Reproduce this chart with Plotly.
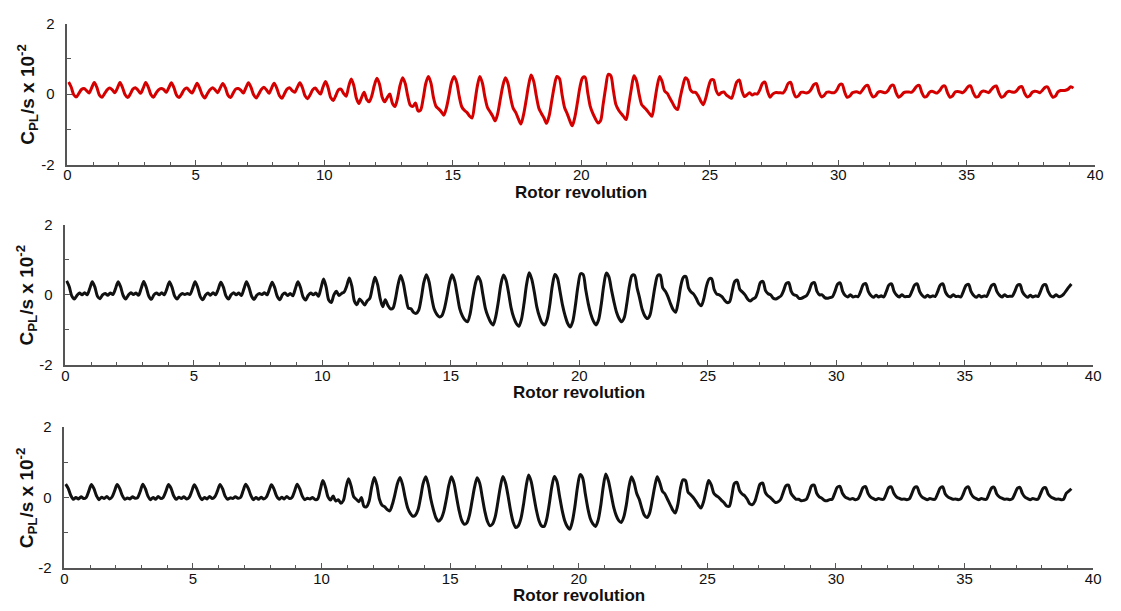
import numpy as np
import plotly.graph_objects as go

# C_PL/s x 10^-2 sampled every 0.1 rotor revolution (first sample at 0.05 rev)
cpl_top = [
    0.34, 0.20, -0.02, -0.08, 0.02, 0.13, 0.16, 0.10, 0.03, 0.18,
    0.33, 0.19, -0.03, -0.09, 0.01, 0.12, 0.17, 0.12, 0.04, 0.17,
    0.33, 0.18, -0.02, -0.10, 0.00, 0.14, 0.18, 0.11, 0.02, 0.16,
    0.33, 0.20, -0.01, -0.09, 0.02, 0.12, 0.16, 0.13, 0.05, 0.18,
    0.32, 0.18, -0.03, -0.10, 0.00, 0.13, 0.17, 0.10, 0.03, 0.16,
    0.31, 0.17, -0.02, -0.11, 0.01, 0.12, 0.18, 0.12, 0.04, 0.17,
    0.30, 0.18, -0.03, -0.10, 0.02, 0.14, 0.16, 0.11, 0.03, 0.18,
    0.32, 0.19, -0.02, -0.11, 0.00, 0.13, 0.19, 0.12, 0.02, 0.17,
    0.31, 0.17, -0.04, -0.12, 0.01, 0.14, 0.18, 0.10, 0.05, 0.19,
    0.32, 0.18, -0.05, -0.13, -0.02, 0.12, 0.17, 0.08, 0.00, 0.20,
    0.36, 0.18, -0.10, -0.18, -0.04, 0.12, 0.14, 0.02, -0.06, 0.22,
    0.43, 0.24, -0.12, -0.27, -0.10, 0.05, -0.15, -0.22, -0.05, 0.25,
    0.45, 0.28, -0.08, -0.22, -0.10, 0.00, -0.26, -0.35, -0.12, 0.25,
    0.46, 0.30, -0.06, -0.32, -0.35, -0.25, -0.48, -0.45, -0.12, 0.30,
    0.50, 0.32, -0.10, -0.35, -0.42, -0.50, -0.60, -0.40, -0.05, 0.33,
    0.50, 0.34, -0.06, -0.36, -0.46, -0.52, -0.62, -0.68, -0.28, 0.20,
    0.50, 0.32, -0.08, -0.38, -0.50, -0.62, -0.76, -0.55, -0.15, 0.24,
    0.46, 0.30, -0.10, -0.40, -0.52, -0.70, -0.85, -0.60, -0.20, 0.25,
    0.54, 0.36, -0.05, -0.40, -0.55, -0.68, -0.83, -0.62, -0.20, 0.22,
    0.50, 0.44, 0.00, -0.38, -0.55, -0.75, -0.90, -0.66, -0.25, 0.20,
    0.46, 0.48, 0.05, -0.35, -0.55, -0.70, -0.82, -0.76, -0.30, 0.18,
    0.56, 0.52, 0.10, -0.30, -0.45, -0.55, -0.64, -0.72, -0.30, 0.15,
    0.52, 0.38, 0.00, -0.30, -0.38, -0.46, -0.55, -0.63, -0.25, 0.20,
    0.50, 0.35, 0.08, 0.02, -0.12, -0.25, -0.38, -0.44, -0.10, 0.22,
    0.46, 0.40, 0.12, 0.05, 0.05, -0.05, -0.20, -0.30, -0.10, 0.20,
    0.40, 0.40, 0.10, -0.02, 0.04, 0.06, -0.03, -0.08, -0.12, 0.10,
    0.34, 0.40, 0.10, -0.07, -0.02, 0.04, -0.03, 0.01, 0.00, 0.12,
    0.30, 0.34, 0.08, -0.09, 0.00, 0.04, 0.04, 0.04, 0.03, 0.13,
    0.30, 0.33, 0.08, -0.08, -0.05, 0.05, 0.05, 0.03, 0.05, 0.14,
    0.27, 0.30, 0.06, -0.08, -0.04, 0.05, 0.06, 0.04, 0.04, 0.12,
    0.26, 0.28, 0.06, -0.09, -0.06, 0.04, 0.06, 0.06, 0.03, 0.12,
    0.22, 0.25, 0.05, -0.08, -0.05, 0.05, 0.07, 0.05, 0.04, 0.11,
    0.23, 0.25, 0.04, -0.09, -0.04, 0.04, 0.06, 0.06, 0.05, 0.12,
    0.22, 0.25, 0.05, -0.08, -0.06, 0.05, 0.08, 0.05, 0.03, 0.10,
    0.21, 0.23, 0.04, -0.09, -0.05, 0.06, 0.07, 0.06, 0.04, 0.11,
    0.21, 0.23, 0.05, -0.08, -0.07, 0.05, 0.09, 0.07, 0.04, 0.12,
    0.20, 0.23, 0.04, -0.09, -0.06, 0.04, 0.08, 0.06, 0.05, 0.10,
    0.19, 0.21, 0.03, -0.08, -0.05, 0.05, 0.08, 0.07, 0.04, 0.11,
    0.19, 0.20, 0.04, -0.09, -0.06, 0.06, 0.10, 0.10, 0.11, 0.14,
    0.21, 0.17,
]

cpl_mid = [
    0.40, 0.24, -0.03, -0.12, -0.02, 0.05, 0.00, 0.06, 0.00, 0.18,
    0.37, 0.22, -0.04, -0.11, 0.00, 0.04, -0.01, 0.05, 0.01, 0.17,
    0.37, 0.23, -0.02, -0.12, -0.01, 0.06, 0.01, 0.05, -0.01, 0.18,
    0.38, 0.21, -0.04, -0.13, 0.00, 0.05, 0.00, 0.06, 0.00, 0.17,
    0.37, 0.22, -0.03, -0.12, -0.02, 0.04, 0.01, 0.04, 0.01, 0.18,
    0.37, 0.21, -0.05, -0.14, -0.01, 0.05, -0.01, 0.06, 0.00, 0.16,
    0.36, 0.22, -0.03, -0.12, 0.00, 0.06, 0.00, 0.05, -0.02, 0.17,
    0.37, 0.21, -0.04, -0.13, -0.01, 0.04, 0.01, 0.06, 0.00, 0.18,
    0.36, 0.20, -0.05, -0.14, 0.00, 0.05, -0.02, 0.04, -0.03, 0.17,
    0.37, 0.21, -0.06, -0.15, -0.02, 0.05, 0.00, 0.05, -0.04, 0.20,
    0.45, 0.22, -0.15, -0.22, 0.00, 0.10, -0.02, 0.04, 0.08, 0.25,
    0.48, 0.25, -0.18, -0.28, -0.12, -0.20, -0.29, -0.17, -0.10, 0.22,
    0.50, 0.30, -0.10, -0.34, -0.14, -0.30, -0.40, -0.38, -0.10, 0.30,
    0.55, 0.34, -0.06, -0.38, -0.40, -0.50, -0.53, -0.44, -0.10, 0.35,
    0.57, 0.38, -0.05, -0.40, -0.55, -0.63, -0.60, -0.40, -0.05, 0.35,
    0.57, 0.40, 0.00, -0.40, -0.60, -0.72, -0.77, -0.55, -0.10, 0.30,
    0.52, 0.40, 0.00, -0.40, -0.62, -0.78, -0.86, -0.62, -0.20, 0.30,
    0.57, 0.42, 0.05, -0.38, -0.65, -0.82, -0.90, -0.70, -0.25, 0.30,
    0.63, 0.45, 0.08, -0.35, -0.62, -0.80, -0.86, -0.70, -0.30, 0.25,
    0.58, 0.48, 0.10, -0.30, -0.60, -0.82, -0.92, -0.75, -0.30, 0.25,
    0.60, 0.58, 0.15, -0.25, -0.55, -0.75, -0.86, -0.72, -0.30, 0.25,
    0.62, 0.52, 0.15, -0.20, -0.50, -0.68, -0.77, -0.65, -0.25, 0.25,
    0.55, 0.56, 0.20, -0.10, -0.42, -0.60, -0.68, -0.58, -0.20, 0.25,
    0.55, 0.56, 0.20, 0.10, -0.05, -0.25, -0.42, -0.50, -0.20, 0.25,
    0.50, 0.52, 0.20, 0.08, 0.02, -0.10, -0.25, -0.31, -0.10, 0.25,
    0.45, 0.46, 0.15, 0.02, 0.00, -0.05, -0.15, -0.22, -0.20, 0.10,
    0.38, 0.42, 0.15, 0.08, 0.00, -0.12, -0.18, -0.12, -0.08, 0.10,
    0.35, 0.38, 0.12, 0.03, 0.00, -0.10, -0.12, -0.08, -0.03, 0.12,
    0.32, 0.35, 0.10, 0.00, -0.02, -0.10, -0.10, -0.06, -0.02, 0.12,
    0.32, 0.35, 0.10, 0.00, 0.00, -0.08, -0.10, -0.08, -0.06, 0.10,
    0.30, 0.34, 0.10, -0.02, -0.06, 0.00, -0.06, -0.04, -0.05, 0.10,
    0.29, 0.32, 0.09, -0.02, -0.07, -0.01, -0.06, -0.03, -0.06, 0.10,
    0.28, 0.31, 0.10, -0.01, -0.06, 0.00, -0.05, -0.05, -0.04, 0.11,
    0.28, 0.31, 0.09, -0.02, -0.07, -0.01, -0.06, -0.03, -0.05, 0.10,
    0.28, 0.31, 0.08, -0.03, -0.06, 0.00, -0.05, -0.04, -0.06, 0.10,
    0.27, 0.30, 0.09, -0.02, -0.07, -0.01, -0.06, -0.03, -0.05, 0.11,
    0.27, 0.30, 0.10, -0.01, -0.06, 0.00, -0.05, -0.04, -0.04, 0.10,
    0.27, 0.29, 0.08, -0.02, -0.07, -0.01, -0.06, -0.03, -0.05, 0.10,
    0.27, 0.29, 0.09, -0.03, -0.06, 0.00, -0.05, -0.04, 0.02, 0.12,
    0.22, 0.31,
]

cpl_bot = [
    0.38, 0.26, 0.06, -0.05, 0.00, -0.04, 0.02, -0.03, 0.00, 0.18,
    0.37, 0.25, 0.05, -0.06, 0.01, -0.03, 0.03, -0.04, 0.01, 0.18,
    0.37, 0.26, 0.06, -0.05, -0.01, -0.04, 0.02, -0.02, 0.00, 0.17,
    0.38, 0.25, 0.04, -0.06, 0.00, -0.05, 0.03, -0.03, 0.01, 0.18,
    0.37, 0.26, 0.05, -0.05, 0.01, -0.03, 0.02, -0.04, 0.00, 0.17,
    0.36, 0.24, 0.05, -0.06, 0.00, -0.04, 0.03, -0.03, 0.02, 0.18,
    0.37, 0.25, 0.04, -0.05, -0.01, -0.03, 0.02, -0.02, 0.00, 0.19,
    0.38, 0.26, 0.06, -0.06, 0.00, -0.05, 0.01, -0.04, 0.01, 0.18,
    0.36, 0.24, 0.04, -0.05, 0.01, -0.04, 0.03, -0.03, 0.00, 0.18,
    0.38, 0.25, 0.04, -0.06, -0.02, -0.04, 0.00, -0.06, -0.04, 0.22,
    0.48, 0.30, 0.02, -0.07, 0.04, -0.10, -0.06, -0.16, -0.08, 0.28,
    0.53, 0.32, 0.02, -0.05, -0.12, 0.00, -0.25, -0.26, -0.10, 0.30,
    0.57, 0.35, -0.05, -0.22, -0.26, -0.34, -0.38, -0.20, 0.08, 0.40,
    0.57, 0.36, 0.00, -0.30, -0.45, -0.53, -0.50, -0.35, 0.00, 0.40,
    0.59, 0.36, -0.05, -0.35, -0.58, -0.67, -0.60, -0.40, -0.05, 0.35,
    0.59, 0.40, 0.00, -0.38, -0.65, -0.76, -0.72, -0.50, -0.10, 0.30,
    0.56, 0.40, 0.00, -0.40, -0.68, -0.80, -0.75, -0.55, -0.15, 0.30,
    0.60, 0.42, 0.05, -0.38, -0.70, -0.85, -0.80, -0.60, -0.20, 0.30,
    0.64, 0.45, 0.05, -0.35, -0.65, -0.80, -0.82, -0.62, -0.20, 0.30,
    0.60, 0.46, 0.05, -0.35, -0.65, -0.82, -0.90, -0.68, -0.25, 0.30,
    0.65, 0.56, 0.12, -0.30, -0.60, -0.75, -0.82, -0.65, -0.25, 0.30,
    0.67, 0.48, 0.12, -0.25, -0.50, -0.65, -0.71, -0.55, -0.20, 0.30,
    0.59, 0.42, 0.12, -0.05, -0.30, -0.50, -0.57, -0.45, -0.10, 0.30,
    0.59, 0.42, 0.18, 0.10, -0.05, -0.20, -0.35, -0.44, -0.20, 0.25,
    0.50, 0.48, 0.15, 0.08, 0.00, -0.10, -0.22, -0.30, -0.12, 0.20,
    0.48, 0.36, 0.12, 0.05, 0.00, -0.08, -0.15, -0.24, -0.25, 0.05,
    0.40, 0.43, 0.20, 0.10, 0.05, -0.05, -0.18, -0.20, -0.10, 0.15,
    0.38, 0.41, 0.15, 0.05, 0.00, -0.08, -0.14, -0.12, -0.05, 0.15,
    0.33, 0.35, 0.12, 0.02, -0.05, -0.05, -0.09, -0.08, -0.05, 0.12,
    0.33, 0.35, 0.12, 0.02, -0.02, -0.08, -0.09, -0.06, -0.05, 0.12,
    0.29, 0.32, 0.12, 0.02, -0.02, -0.05, -0.03, -0.06, -0.04, 0.10,
    0.28, 0.31, 0.11, 0.01, -0.03, -0.06, -0.03, -0.05, -0.05, 0.10,
    0.28, 0.30, 0.12, 0.02, -0.02, -0.05, -0.04, -0.06, -0.04, 0.11,
    0.28, 0.30, 0.11, 0.01, -0.03, -0.06, -0.03, -0.05, -0.05, 0.10,
    0.27, 0.30, 0.10, 0.02, -0.02, -0.05, -0.04, -0.06, -0.04, 0.10,
    0.27, 0.30, 0.11, 0.01, -0.03, -0.06, -0.03, -0.05, -0.05, 0.11,
    0.27, 0.29, 0.10, 0.02, -0.02, -0.05, -0.04, -0.06, -0.04, 0.10,
    0.26, 0.29, 0.11, 0.01, -0.03, -0.06, -0.03, -0.05, -0.05, 0.10,
    0.26, 0.28, 0.10, 0.02, -0.02, -0.05, -0.04, -0.06, -0.05, 0.12,
    0.18, 0.25,
]

x_tickvals = [0, 5, 10, 15, 20, 25, 30, 35, 40]
y_tickvals = [-2, 0, 2]
y_ticktext = ["-2", "0", "2"]
x_title = "Rotor revolution"
y_title = "C<sub>PL</sub>/s x 10<sup>-2</sup>"
series_colors = ["#d40000", "#111111", "#111111"]

W, H = 1121, 611
# plot areas in pixels: (left, right, top, bottom)
panels = [(64, 1103, 15, 160), (62, 1101, 222, 366), (61, 1101, 430, 575)]


def rev_axis(n):
    return np.round(0.05 + 0.1 * np.arange(n), 3)


fig = go.Figure()
for i, (ys, col) in enumerate(zip([cpl_top, cpl_mid, cpl_bot], series_colors)):
    sfx = "" if i == 0 else str(i + 1)
    fig.add_trace(go.Scatter(
        x=rev_axis(len(ys)), y=ys, mode="lines",
        line=dict(color=col, width=3, shape="spline", smoothing=0.8),
        xaxis="x" + sfx, yaxis="y" + sfx, showlegend=False, hoverinfo="skip"))

font_fam = "Liberation Sans, Arial, sans-serif"
tick_font = dict(family=font_fam, size=15, color="#111")
axis_col = "#555555"
annotations = []
for i, (l, r, t, b) in enumerate(panels):
    sfx = "" if i == 0 else str(i + 1)
    xd = [l / W, r / W]
    yd = [1 - b / H, 1 - t / H]
    fig.layout["xaxis" + sfx] = dict(
        domain=xd, range=[0, 40], anchor="y" + sfx,
        tickvals=x_tickvals, ticks="inside", ticklen=5, tickwidth=1, tickcolor=axis_col,
        minor=dict(dtick=1, ticks="inside", ticklen=3, tickcolor=axis_col),
        showline=True, linecolor=axis_col, linewidth=1.5,
        showgrid=False, zeroline=False, tickfont=tick_font, ticklabelstandoff=-4)
    fig.layout["yaxis" + sfx] = dict(
        domain=yd, range=[-2, 2], anchor="x" + sfx,
        tickvals=y_tickvals, ticktext=y_ticktext, ticks="inside", ticklen=5, tickwidth=1,
        tickcolor=axis_col,
        minor=dict(tickvals=[-1, 1], ticks="inside", ticklen=4, tickcolor=axis_col),
        showline=True, linecolor=axis_col, linewidth=1.5,
        showgrid=False, zeroline=False, tickfont=tick_font, ticklabelstandoff=8)
    annotations.append(dict(
        text="<b>" + x_title + "</b>", xref="paper", yref="paper",
        x=(l + r) / 2 / W, y=1 - (b + 28.5) / H, xanchor="center", yanchor="middle",
        showarrow=False, font=dict(family=font_fam, size=17, color="#111")))
    annotations.append(dict(
        text="<b>" + y_title + "</b>", xref="paper", yref="paper",
        x=23 / W, y=1 - (t + b) / 2 / H, xanchor="center", yanchor="middle", textangle=-90,
        showarrow=False, font=dict(family=font_fam, size=19, color="#111")))

fig.update_layout(
    width=W, height=H, margin=dict(l=0, r=0, t=0, b=0),
    paper_bgcolor="white", plot_bgcolor="white", annotations=annotations)

fig.write_html("out.html")
